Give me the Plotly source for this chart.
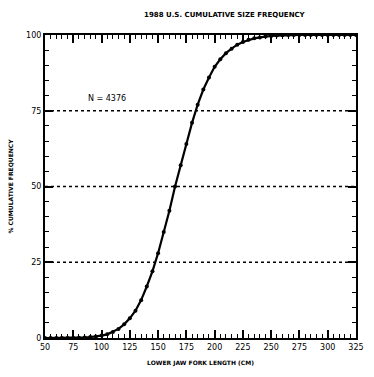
import plotly.graph_objects as go

title_text = "1988 U.S. CUMULATIVE SIZE FREQUENCY"
x_title = "LOWER JAW FORK LENGTH (CM)"
y_title = "% CUMULATIVE FREQUENCY"
n_label = "N = 4376"

length_cm = [50, 55, 60, 65, 70, 75, 80, 85, 90, 95, 100, 105, 110, 115, 120, 125,
             130, 135, 140, 145, 150, 155, 160, 165, 170, 175, 180, 185, 190, 195,
             200, 205, 210, 215, 220, 225, 230, 235, 240, 245, 250, 255, 260, 265,
             270, 275, 280, 285, 290, 295, 300, 305, 310, 315, 320, 325]
cum_pct = [0, 0, 0, 0, 0, 0, 0.1, 0.2, 0.3, 0.5, 0.8, 1.2, 2, 3, 4.5, 6.5,
           9, 12.5, 17, 22, 28, 35, 42, 50, 57, 64, 71, 77, 82, 86,
           89.5, 92, 94, 95.5, 96.8, 97.7, 98.4, 98.9, 99.2, 99.5, 99.7, 99.8, 99.9, 100,
           100, 100, 100, 100, 100, 100, 100, 100, 100, 100, 100, 100]

x_ticks = [50, 75, 100, 125, 150, 175, 200, 225, 250, 275, 300, 325]
y_ticks = [0, 25, 50, 75, 100]
grid_levels = [25, 50, 75]

fig = go.Figure()
fig.add_trace(go.Scatter(
    x=length_cm, y=cum_pct, mode="lines+markers",
    line=dict(color="black", width=2.2),
    marker=dict(color="black", size=4),
    showlegend=False,
))

for g in grid_levels:
    fig.add_shape(type="line", xref="paper", x0=0, x1=1, yref="y", y0=g, y1=g,
                  line=dict(color="black", width=1.3, dash="dot"))

fig.add_annotation(x=86, y=79, text=n_label, showarrow=False,
                   font=dict(family="DejaVu Sans", size=8, color="black"), xanchor="left")

axis_font = dict(family="DejaVu Sans", size=8, color="black")
fig.update_layout(
    width=374, height=377,
    margin=dict(l=44, r=10, t=35, b=39),
    paper_bgcolor="white", plot_bgcolor="white",
    title=dict(text="<b>" + title_text + "</b>", x=0.6, y=0.962, xanchor="center", yanchor="middle",
               font=dict(family="DejaVu Sans", size=7, color="black")),
    font=axis_font,
)
fig.update_xaxes(
    range=[50, 325], tickvals=x_ticks, ticktext=[str(v) for v in x_ticks],
    showgrid=False, zeroline=False, showline=True, linecolor="black", linewidth=2,
    mirror="ticks", ticks="inside", ticklen=8, tickwidth=1.5, tickcolor="black",
    minor=dict(dtick=5, tick0=50, ticks="inside", ticklen=4, tickwidth=1, tickcolor="black", showgrid=False),
    title=dict(text="<b>" + x_title + "</b>", font=dict(family="DejaVu Sans", size=6, color="black"), standoff=10),
    tickfont=axis_font,
)
fig.update_yaxes(
    range=[0, 100], tickvals=y_ticks, ticktext=[str(v) for v in y_ticks],
    showgrid=False, zeroline=False, showline=True, linecolor="black", linewidth=2,
    mirror="ticks", ticks="inside", ticklen=8, tickwidth=1.5, tickcolor="black",
    minor=dict(dtick=5, tick0=0, ticks="inside", ticklen=4, tickwidth=1, tickcolor="black", showgrid=False),
    title=dict(text="<b>" + y_title + "</b>", font=dict(family="DejaVu Sans", size=6, color="black"), standoff=12),
    tickfont=axis_font,
)

fig.write_html("out.html")
